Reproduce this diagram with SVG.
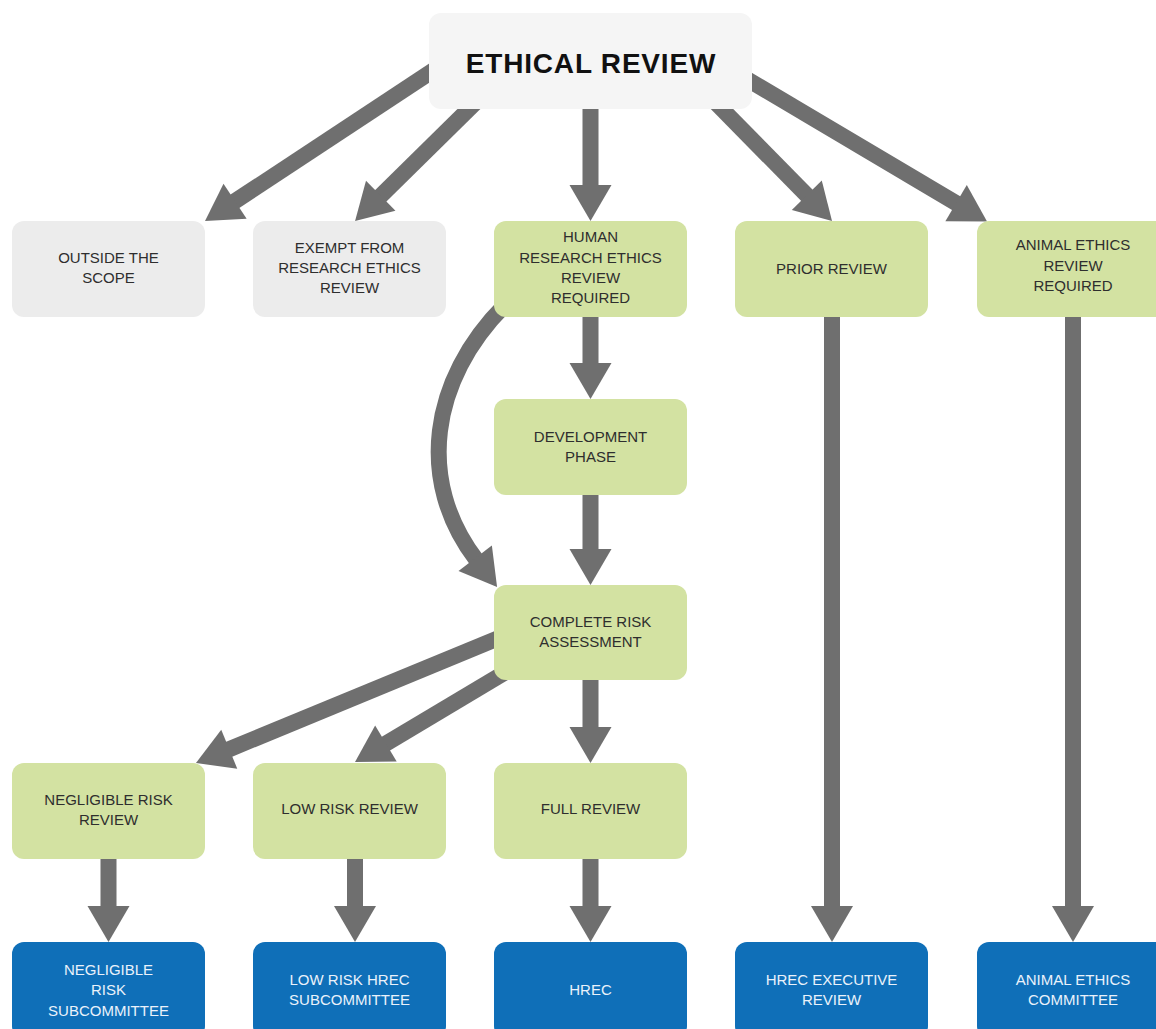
<svg xmlns="http://www.w3.org/2000/svg" width="1156" height="1029" viewBox="0 0 1156 1029">
<defs>
<marker id="ah" markerUnits="userSpaceOnUse" markerWidth="40" markerHeight="44" viewBox="0 -22 40 44" refX="2" refY="0" orient="auto" overflow="visible">
<path d="M0,-21 L36,0 L0,21 Z" fill="#6f6f6f"/>
</marker>
</defs>
<style>
.c{fill:none;stroke:#6f6f6f;stroke-width:16;marker-end:url(#ah)}
.top{fill:#f5f5f5}
.g{fill:#ececec}
.gr{fill:#d3e2a2}
.b{fill:#0f6fb8}
text{font-family:"Liberation Sans",Arial,sans-serif;font-size:15px;text-anchor:middle;fill:#2e2e2e}
.wt{fill:#eaf2fb}
.title{font-size:28px;font-weight:bold;fill:#111;letter-spacing:0.8px}
</style>
<rect width="1156" height="1029" fill="#ffffff"/>
<g id="connectors">
<path class="c" d="M472.2,44.8 L233.4,202.3"/>
<path class="c" d="M483.4,94.8 L379.3,197.2"/>
<path class="c" d="M590.5,100 L590.5,187"/>
<path class="c" d="M705.9,92.6 L808.2,196.7"/>
<path class="c" d="M711.8,58.3 L957.8,204.2"/>
<path class="c" d="M590.5,310 L590.5,365"/>
<path class="c" d="M590.5,490 L590.5,551"/>
<path class="c" d="M505,305 C430,380 416,481 476.4,559.9"/>
<path class="c" d="M565.7,610.4 L227.4,750"/>
<path class="c" d="M569.7,633.8 L384.2,744.6"/>
<path class="c" d="M590.5,675 L590.5,729"/>
<path class="c" d="M108.5,855 L108.5,908"/>
<path class="c" d="M355,855 L355,908"/>
<path class="c" d="M590.5,855 L590.5,908"/>
<path class="c" d="M832,312 L832,908"/>
<path class="c" d="M1073,312 L1073,908"/>
</g>
<g id="ethical-review">
<rect class="top" x="429" y="13" width="323" height="96" rx="12"/>
<text class="title" x="591" y="73">ETHICAL REVIEW</text>
</g>
<g id="outside-scope">
<rect class="g" x="12" y="221" width="193" height="96" rx="12"/>
<text x="108.5" y="263">OUTSIDE THE</text>
<text x="108.5" y="283">SCOPE</text>
</g>
<g id="exempt">
<rect class="g" x="253" y="221" width="193" height="96" rx="12"/>
<text x="349.5" y="253">EXEMPT FROM</text>
<text x="349.5" y="273">RESEARCH ETHICS</text>
<text x="349.5" y="293">REVIEW</text>
</g>
<g id="human-research">
<rect class="gr" x="494" y="221" width="193" height="96" rx="12"/>
<text x="590.5" y="242">HUMAN</text>
<text x="590.5" y="262.5">RESEARCH ETHICS</text>
<text x="590.5" y="283">REVIEW</text>
<text x="590.5" y="303">REQUIRED</text>
</g>
<g id="prior-review">
<rect class="gr" x="735" y="221" width="193" height="96" rx="12"/>
<text x="831.5" y="273.5">PRIOR REVIEW</text>
</g>
<g id="animal-ethics-required">
<rect class="gr" x="977" y="221" width="193" height="96" rx="12"/>
<text x="1073" y="250">ANIMAL ETHICS</text>
<text x="1073" y="271">REVIEW</text>
<text x="1073" y="291">REQUIRED</text>
</g>
<g id="development-phase">
<rect class="gr" x="494" y="399" width="193" height="96" rx="12"/>
<text x="590.5" y="442">DEVELOPMENT</text>
<text x="590.5" y="462">PHASE</text>
</g>
<g id="complete-risk">
<rect class="gr" x="494" y="585" width="193" height="95" rx="12"/>
<text x="590.5" y="626.5">COMPLETE RISK</text>
<text x="590.5" y="646.5">ASSESSMENT</text>
</g>
<g id="negligible-review">
<rect class="gr" x="12" y="763" width="193" height="96" rx="12"/>
<text x="108.5" y="805">NEGLIGIBLE RISK</text>
<text x="108.5" y="825">REVIEW</text>
</g>
<g id="low-risk-review">
<rect class="gr" x="253" y="763" width="193" height="96" rx="12"/>
<text x="349.5" y="814">LOW RISK REVIEW</text>
</g>
<g id="full-review">
<rect class="gr" x="494" y="763" width="193" height="96" rx="12"/>
<text x="590.5" y="814">FULL REVIEW</text>
</g>
<g id="negligible-sub">
<rect class="b" x="12" y="942" width="193" height="96" rx="12"/>
<text class="wt" x="108.5" y="974.5">NEGLIGIBLE</text>
<text class="wt" x="108.5" y="995">RISK</text>
<text class="wt" x="108.5" y="1015.5">SUBCOMMITTEE</text>
</g>
<g id="low-risk-sub">
<rect class="b" x="253" y="942" width="193" height="96" rx="12"/>
<text class="wt" x="349.5" y="984.5">LOW RISK HREC</text>
<text class="wt" x="349.5" y="1005">SUBCOMMITTEE</text>
</g>
<g id="hrec">
<rect class="b" x="494" y="942" width="193" height="96" rx="12"/>
<text class="wt" x="590.5" y="995">HREC</text>
</g>
<g id="hrec-exec">
<rect class="b" x="735" y="942" width="193" height="96" rx="12"/>
<text class="wt" x="831.5" y="984.5">HREC EXECUTIVE</text>
<text class="wt" x="831.5" y="1005">REVIEW</text>
</g>
<g id="animal-committee">
<rect class="b" x="977" y="942" width="193" height="96" rx="12"/>
<text class="wt" x="1073" y="984.5">ANIMAL ETHICS</text>
<text class="wt" x="1073" y="1005">COMMITTEE</text>
</g>
</svg>
